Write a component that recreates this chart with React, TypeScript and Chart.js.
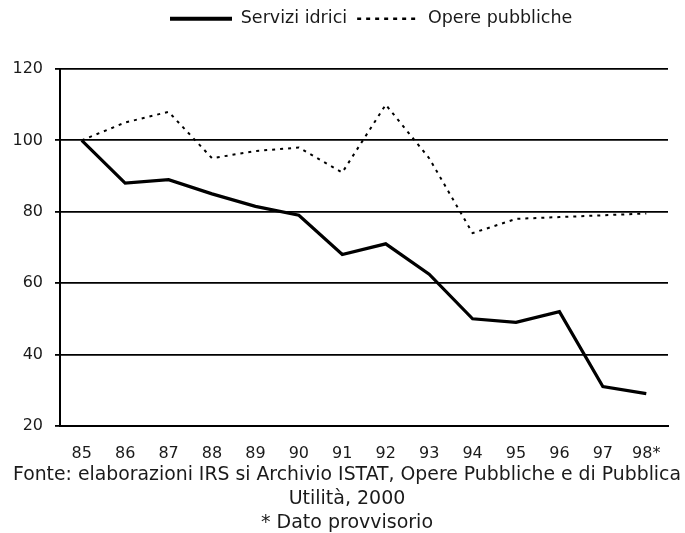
import React, { useEffect, useRef } from "react";
import { Chart, registerables } from "chart.js";

Chart.register(...registerables);

const categories = ["85", "86", "87", "88", "89", "90", "91", "92", "93", "94", "95", "96", "97", "98*"];
const serviziIdrici = [100, 88, 89, 85, 81.5, 79, 68, 71, 62.5, 50, 49, 52, 31, 29];
const operePubbliche = [100, 105, 108, 95, 97, 98, 91, 110, 95, 74, 78, 78.5, 79, 79.5];
const yTicks = [20, 40, 60, 80, 100, 120];
const footerLines = [
  "Fonte: elaborazioni IRS si Archivio ISTAT, Opere Pubbliche e di Pubblica",
  "Utilità, 2000",
  "* Dato provvisorio",
];

const FONT = "'DejaVu Sans', Verdana, sans-serif";
const TEXT = "#1a1a1a";

export default function App() {
  const ref = useRef<HTMLCanvasElement | null>(null);
  useEffect(() => {
    document.body.style.margin = "0";
    const canvas = ref.current!;
    const chart = new Chart(canvas, {
      type: "line",
      data: {
        labels: categories,
        datasets: [
          {
            label: "Servizi idrici",
            data: serviziIdrici,
            borderColor: "#000",
            backgroundColor: "#000",
            borderWidth: 3.2,
            pointRadius: 0,
            tension: 0,
          },
          {
            label: "Opere pubbliche",
            data: operePubbliche,
            borderColor: "#000",
            backgroundColor: "#000",
            borderWidth: 2,
            borderDash: [3, 5],
            pointRadius: 0,
            tension: 0,
          },
        ],
      },
      options: {
        animation: false,
        responsive: false,
        maintainAspectRatio: false,
        layout: { padding: { left: 0, right: 17, top: 0, bottom: -2 } },
        plugins: {
          legend: {
            position: "top",
            labels: {
              usePointStyle: true,
              pointStyle: "line",
              pointStyleWidth: 62,
              color: TEXT,
              font: { family: FONT, size: 17.5 },
              padding: 10,
              generateLabels: (c: any) => {
                const items = Chart.defaults.plugins.legend.labels.generateLabels(c);
                items.forEach((it: any, i: number) => {
                  it.strokeStyle = "#000";
                  it.fillStyle = "#000";
                  it.pointStyle = "line";
                  if (i === 0) {
                    it.lineWidth = 4;
                    it.lineDash = [];
                  } else {
                    it.lineWidth = 2.5;
                    it.lineDash = [4, 5];
                  }
                });
                return items;
              },
            },
          },
          title: {
            display: true,
            position: "bottom",
            text: footerLines,
            color: TEXT,
            font: { family: FONT, size: 19, weight: "normal", lineHeight: "24px" },
            padding: { top: -18, bottom: 0 },
          },
          tooltip: { enabled: false },
        },
        scales: {
          x: {
            offset: true,
            grid: { display: false, drawTicks: false },
            border: { display: true, color: "#000", width: 2 },
            ticks: { color: TEXT, font: { family: FONT, size: 16 }, padding: 18, maxRotation: 0, autoSkip: false },
          },
          y: {
            min: 20,
            max: 120,
            afterFit: (s: any) => {
              s.width = 60;
            },
            afterBuildTicks: (s: any) => {
              s.ticks = yTicks.map((v) => ({ value: v }));
            },
            grid: { color: "#000", lineWidth: 1.8, tickLength: 5, drawTicks: true },
            border: { display: true, color: "#000", width: 2 },
            ticks: { color: TEXT, font: { family: FONT, size: 16 }, padding: 12 },
          },
        },
      },
      plugins: [
        {
          id: "legendTune",
          beforeLayout(c: any) {
            const lg = c.legend;
            if (lg && !lg.__patched) {
              lg.__patched = true;
              const fit = lg.fit.bind(lg);
              lg.fit = function () {
                fit();
                if (this.isHorizontal()) this.height = 69;
              };
            }
          },
          afterLayout(c: any) {
            const lg = c.legend;
            if (lg && lg.lineWidths) {
              const pad = lg.options.labels.padding;
              const start = (lg.left + pad + lg.right - lg.lineWidths[0]) / 2;
              const d = 170 - start;
              lg.left += d;
              lg.right += d;
            }
            const t = c.titleBlock;
            if (t) {
              t.left += 13;
              t.right += 13;
            }
          },
        },
      ],
    });
    return () => chart.destroy();
  }, []);
  return (
    <div style={{ width: 685, height: 533 }}>
      <canvas ref={ref} width={685} height={533} style={{ width: 685, height: 533, display: "block" }} />
    </div>
  );
}
